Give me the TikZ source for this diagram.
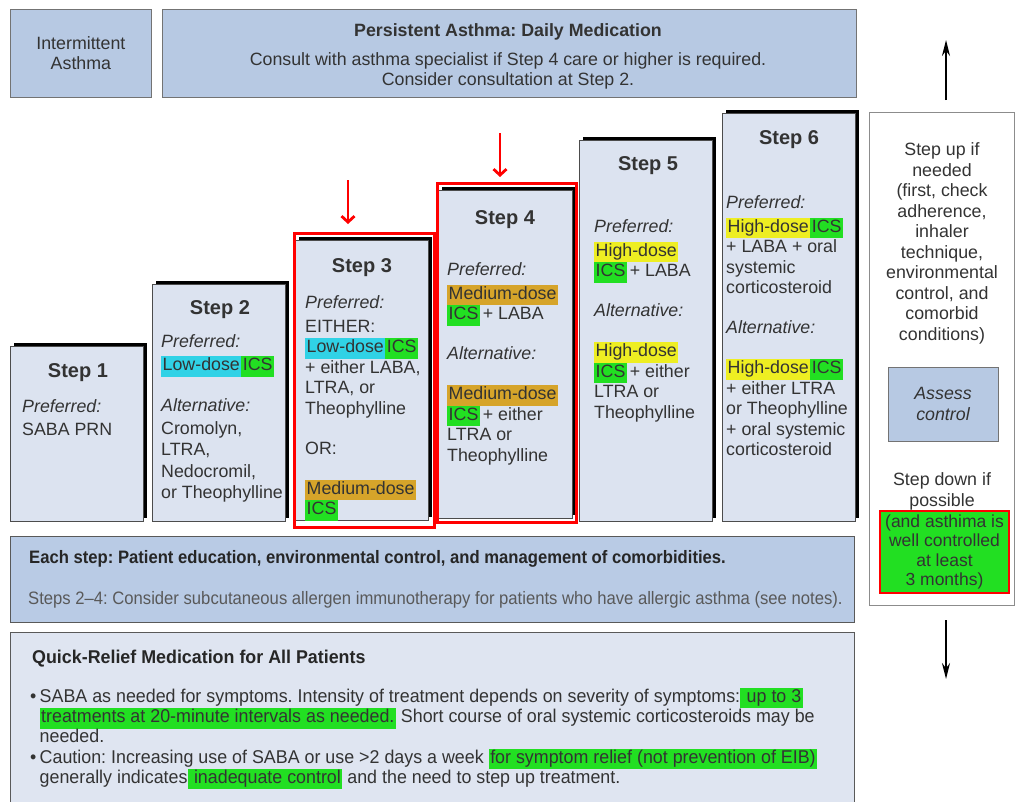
\documentclass[tikz,border=0pt]{standalone}
\usepackage{fontspec}
\setmainfont{Liberation Sans}
\newfontfamily\bandfont[FakeStretch=0.925,Ligatures=TeX]{Liberation Sans}
\newfontfamily\relieffont[FakeStretch=0.965,Ligatures=TeX]{Liberation Sans}
\usetikzlibrary{arrows.meta,shadows}
\frenchspacing

% colours of the chart
\definecolor{hdrblue}{HTML}{B7C9E3}
\definecolor{stepfill}{HTML}{DCE3F0}
\definecolor{bandblue}{HTML}{B9CBE5}
\definecolor{reliefbg}{HTML}{DFE5F1}
\definecolor{hlcyan}{HTML}{30D2E6}
\definecolor{hlgreen}{HTML}{22DF22}
\definecolor{hlgold}{HTML}{D6A42A}
\definecolor{hlyellow}{HTML}{EEEE22}
\definecolor{txt}{HTML}{333333}

% highlighted words
\newcommand{\hlt}[2]{{\setlength{\fboxsep}{0pt}\colorbox{#1}{\strut\kern1.5pt #2\kern1.5pt}}}
\newcommand{\stepfont}{\fontsize{17.8}{20.5}\selectfont}
\newcommand{\bul}{\makebox[9.5pt][l]{\textbullet}}

\begin{document}
\begin{tikzpicture}[
    x=1pt, y=-1pt,
    % boxes of the staircase
    stepbox/.style={
        draw=black!70, line width=1pt, fill=stepfill,
        anchor=north west, inner sep=0pt,
        drop shadow={shadow xshift=3pt, shadow yshift=4pt, opacity=1, fill=black}
    },
    stephead/.style={font=\fontsize{20}{24}\selectfont\bfseries, text=txt, anchor=base},
    steptext/.style={font=\stepfont, text=txt, align=left, anchor=north west, inner sep=0pt},
    topbox/.style={draw=black!55, line width=0.8pt, fill=hdrblue, anchor=north west, inner sep=0pt},
    redframe/.style={draw=red, line width=2.6pt, anchor=north west, inner sep=0pt},
    redarrow/.style={red, line width=2.8pt, -{Straight Barb[length=6pt,width=13pt]}},
    blackarrow/.style={black, line width=2pt, -{Stealth[length=16pt,width=8pt]}},
    sidetext/.style={font=\stepfont, text=txt, align=center, inner sep=0pt}
]
    \useasboundingbox (0,0) rectangle (1016,801);

    % header row
    \node[topbox, minimum width=141, minimum height=88] (IA) at (10,9) {};
    \node[font=\fontsize{17.8}{20}\selectfont, text=txt, align=center] (IAt) at (IA.center) {Intermittent\\Asthma};
    \node[topbox, minimum width=694, minimum height=88] (PA) at (162,9) {};
    \node[font=\fontsize{17.8}{20}\selectfont\bfseries, text=txt, anchor=base] (PAh) at (508,36) {Persistent Asthma: Daily Medication};
    \node[font=\fontsize{17.8}{20}\selectfont, text=txt, align=center, anchor=north] (PAt) at (508,49)
        {Consult with asthma specialist if Step 4 care or higher is required.\\Consider consultation at Step 2.};

    % the six steps
    \node[stepbox, minimum width=133, minimum height=175] (S1) at (10,346) {};
    \node[stepbox, minimum width=133, minimum height=237] (S2) at (152,284) {};
    \node[stepbox, minimum width=133, minimum height=280] (S3) at (295,240) {};
    \node[stepbox, minimum width=134, minimum height=328] (S4) at (438,190) {};
    \node[stepbox, minimum width=133, minimum height=381] (S5) at (579,140) {};
    \node[stepbox, minimum width=133, minimum height=408] (S6) at (722,113) {};

    % red frames and arrows on steps 3 and 4
    \node[redframe, minimum width=140, minimum height=294] (F3) at (293,232) {};
    \node[redframe, minimum width=139, minimum height=339] (F4) at (436,182) {};
    \coordinate (r3a) at (348,180);
    \coordinate (r3b) at (348,224);
    \coordinate (r4a) at (500,133);
    \coordinate (r4b) at (500,177);
    \draw[redarrow] (r3a) -- (r3b);
    \draw[redarrow] (r4a) -- (r4b);

    % step titles
    \node[stephead] (H1) at (78,377) {Step 1};
    \node[stephead] (H2) at (220,314) {Step 2};
    \node[stephead] (H3) at (362,272) {Step 3};
    \node[stephead] (H4) at (505,224) {Step 4};
    \node[stephead] (H5) at (648,170) {Step 5};
    \node[stephead] (H6) at (789,144) {Step 6};

    % step contents
    \node[steptext] (T1) at (22,398) {\strut\textit{Preferred:}\\[2.5pt]SABA PRN};
    \node[steptext] (T2) at (161,333) {\strut\textit{Preferred:}\\[2.5pt]
        \hlt{hlcyan}{Low-dose}\hlt{hlgreen}{ICS}\\[20.5pt]
        \textit{Alternative:}\\[2pt]Cromolyn,\\[1pt]LTRA,\\[1pt]Nedocromil,\\[1pt]or Theophylline};
    \node[steptext] (T3) at (305,294) {\strut\textit{Preferred:}\\[3pt]
        EITHER:\\\hlt{hlcyan}{Low-dose}\hlt{hlgreen}{ICS}\\+ either LABA,\\LTRA, or\\Theophylline\\[20pt]
        OR:\\[19pt]\hlt{hlgold}{Medium-dose}\\\hlt{hlgreen}{ICS}};
    \node[steptext] (T4) at (447,261) {\strut\textit{Preferred:}\\[3pt]
        \hlt{hlgold}{Medium-dose}\\\hlt{hlgreen}{ICS}\,+ LABA\\[19.5pt]
        \textit{Alternative:}\\[19.5pt]
        \hlt{hlgold}{Medium-dose}\\\hlt{hlgreen}{ICS}\,+ either\\LTRA or\\Theophylline};
    \node[steptext] (T5) at (594,218) {\strut\textit{Preferred:}\\[3pt]
        \hlt{hlyellow}{High-dose}\\\hlt{hlgreen}{ICS}\,+ LABA\\[19.5pt]
        \textit{Alternative:}\\[19.5pt]
        \hlt{hlyellow}{High-dose}\\\hlt{hlgreen}{ICS}\,+ either\\LTRA or\\Theophylline};
    \node[steptext] (T6) at (726,194) {\strut\textit{Preferred:}\\[3pt]
        \hlt{hlyellow}{High-dose}\hlt{hlgreen}{ICS}\\+ LABA + oral\\systemic\\corticosteroid\\[19.5pt]
        \textit{Alternative:}\\[19.5pt]
        \hlt{hlyellow}{High-dose}\hlt{hlgreen}{ICS}\\+ either LTRA\\or Theophylline\\+ oral systemic\\corticosteroid};

    % right column: step up / assess / step down
    \node[draw=black!45, line width=0.8pt, fill=white, minimum width=145, minimum height=493,
        anchor=north west, inner sep=0pt] (side) at (869,112) {};
    \node[sidetext, anchor=north] (up) at (942,141) {\strut Step up if\\needed\\(first, check\\adherence,\\inhaler\\technique,\\
        environmental\\control, and\\comorbid\\conditions)};
    \node[topbox, anchor=center, minimum width=110, minimum height=74, font=\stepfont\itshape,
        text=txt, align=center] (AC) at (943,404) {Assess\\control};
    \node[sidetext, anchor=north] (down) at (942,471) {\strut Step down if\\possible};
    \node[draw=red, line width=2.6pt, fill=hlgreen, minimum width=129, minimum height=82, inner sep=0pt,
        font=\fontsize{17.5}{19.5}\selectfont, text=txt, align=center] (SD) at (944.5,552)
        {(and asthima is\\well controlled\\at least\\3 months)};
    \coordinate (upa) at (946,100);
    \coordinate (upb) at (946,40);
    \coordinate (dna) at (946,620);
    \coordinate (dnb) at (946,679);
    \draw[blackarrow] (upa) -- (upb);
    \draw[blackarrow] (dna) -- (dnb);

    % bottom bands
    \node[draw=black!65, line width=1.2pt, fill=bandblue, minimum width=844, minimum height=86,
        anchor=north west, inner sep=0pt] (band) at (10,536) {};
    \node[font=\bandfont\fontsize{18}{20}\selectfont\bfseries, text=black!85, anchor=base west, inner sep=0pt] (each) at (29,563)
        {Each step: Patient education, environmental control, and management of comorbidities.};
    \node[font=\bandfont\fontsize{18}{20}\selectfont, text=black!65, anchor=base west, inner sep=0pt] (s24) at (28,604)
        {Steps 2–4: Consider subcutaneous allergen immunotherapy for patients who have allergic asthma (see notes).};

    \node[draw=black!65, line width=1.2pt, fill=reliefbg, minimum width=844, minimum height=180,
        anchor=north west, inner sep=0pt] (relief) at (10,632) {};
    \node[font=\relieffont\fontsize{18.5}{20}\selectfont\bfseries, text=black!85, anchor=base west, inner sep=0pt] (qr) at (32,663)
        {Quick-Relief Medication for All Patients};
    \node[font=\relieffont\fontsize{18.5}{20.25}\selectfont, text=txt, align=left, anchor=north west, inner sep=0pt] (qrt) at (30,688)
        {\strut\bul SABA as needed for symptoms. Intensity of treatment depends on severity of symptoms:\hlt{hlgreen}{ up to 3}\\
        \hspace*{9.5pt}\hlt{hlgreen}{treatments at 20-minute intervals as needed.} Short course of oral systemic corticosteroids may be\\
        \hspace*{9.5pt}needed.\\
        \bul Caution: Increasing use of SABA or use >2 days a week \hlt{hlgreen}{for symptom relief (not prevention of EIB)}\\
        \hspace*{9.5pt}generally indicates\hlt{hlgreen}{ inadequate control} and the need to step up treatment.};
\end{tikzpicture}
\end{document}
